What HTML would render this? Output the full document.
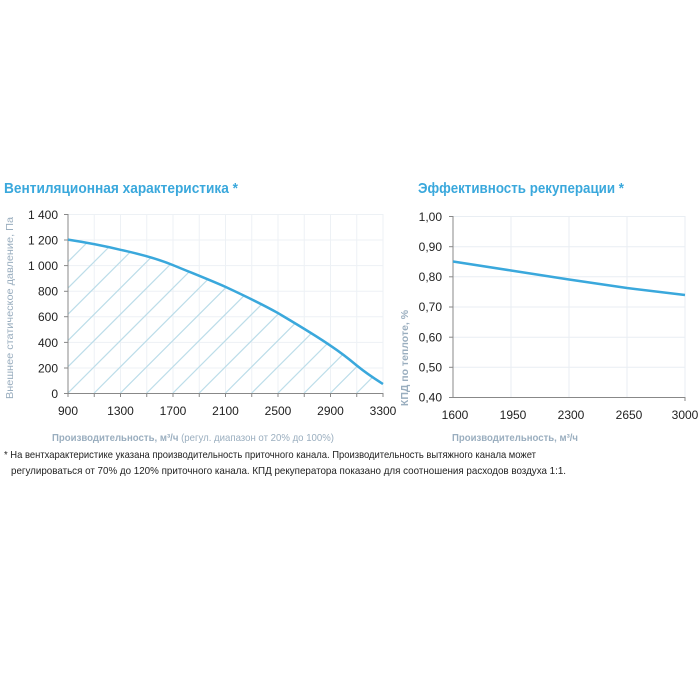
<!DOCTYPE html>
<html><head><meta charset="utf-8"><style>
html,body{margin:0;padding:0;background:#fff;}
svg{display:block;font-family:"Liberation Sans","DejaVu Sans",sans-serif;}
</style></head><body>
<svg width="700" height="700" viewBox="0 0 700 700" xmlns="http://www.w3.org/2000/svg">
<defs>
<clipPath id="under"><path d="M68,239.6 C90,243 105,246 120.5,249.8 C140,254 158,259 173,265.1 C192,273 210,280 225.5,286.9 C245,296 262,304 278,313.1 C298,325 315,335 330.5,345.7 C340,352 349,359 356.75,365.5 C366,373 375,379 383,384 L383,393 L68,393 Z"/></clipPath>
</defs>
<text x="4" y="193" font-size="15" font-weight="bold" fill="#3aa8dc" textLength="234" lengthAdjust="spacingAndGlyphs">Вентиляционная характеристика *</text>
<text x="418" y="193" font-size="15" font-weight="bold" fill="#3aa8dc" textLength="206" lengthAdjust="spacingAndGlyphs">Эффективность рекуперации *</text>

<g stroke="#edf1f5" stroke-width="1">
<line x1="68" y1="214.5" x2="383" y2="214.5"/><line x1="68" y1="240" x2="383" y2="240"/><line x1="68" y1="265.6" x2="383" y2="265.6"/><line x1="68" y1="291.3" x2="383" y2="291.3"/><line x1="68" y1="316.7" x2="383" y2="316.7"/><line x1="68" y1="342.4" x2="383" y2="342.4"/><line x1="68" y1="368" x2="383" y2="368"/>
<line x1="94.25" y1="214" x2="94.25" y2="393"/><line x1="120.5" y1="214" x2="120.5" y2="393"/><line x1="146.75" y1="214" x2="146.75" y2="393"/><line x1="173" y1="214" x2="173" y2="393"/><line x1="199.25" y1="214" x2="199.25" y2="393"/><line x1="225.5" y1="214" x2="225.5" y2="393"/><line x1="251.75" y1="214" x2="251.75" y2="393"/><line x1="278" y1="214" x2="278" y2="393"/><line x1="304.25" y1="214" x2="304.25" y2="393"/><line x1="330.5" y1="214" x2="330.5" y2="393"/><line x1="356.75" y1="214" x2="356.75" y2="393"/><line x1="383" y1="214" x2="383" y2="393"/>
</g>
<g clip-path="url(#under)" stroke="#bcdde9" stroke-width="1.2">
<line x1="68" y1="393" x2="248" y2="213"/>
<line x1="94.25" y1="393" x2="274.25" y2="213"/>
<line x1="120.5" y1="393" x2="300.5" y2="213"/>
<line x1="146.75" y1="393" x2="326.75" y2="213"/>
<line x1="173" y1="393" x2="353" y2="213"/>
<line x1="199.25" y1="393" x2="379.25" y2="213"/>
<line x1="225.5" y1="393" x2="405.5" y2="213"/>
<line x1="251.75" y1="393" x2="431.75" y2="213"/>
<line x1="278" y1="393" x2="458" y2="213"/>
<line x1="304.25" y1="393" x2="484.25" y2="213"/>
<line x1="330.5" y1="393" x2="510.5" y2="213"/>
<line x1="356.75" y1="393" x2="536.75" y2="213"/>
<line x1="41.75" y1="393" x2="221.75" y2="213"/>
<line x1="15.5" y1="393" x2="195.5" y2="213"/>
<line x1="-10.75" y1="393" x2="169.25" y2="213"/>
<line x1="-37" y1="393" x2="143" y2="213"/>
<line x1="-63.25" y1="393" x2="116.75" y2="213"/>
<line x1="-89.5" y1="393" x2="90.5" y2="213"/>
</g>
<g stroke="#888" stroke-width="1">
<line x1="68" y1="214" x2="68" y2="393.5"/>
<line x1="68" y1="393.5" x2="383" y2="393.5"/>
<line x1="64" y1="214.5" x2="68" y2="214.5"/><line x1="64" y1="240" x2="68" y2="240"/><line x1="64" y1="265.6" x2="68" y2="265.6"/><line x1="64" y1="291.3" x2="68" y2="291.3"/><line x1="64" y1="316.7" x2="68" y2="316.7"/><line x1="64" y1="342.4" x2="68" y2="342.4"/><line x1="64" y1="368" x2="68" y2="368"/><line x1="64" y1="393.5" x2="68" y2="393.5"/>
<line x1="68" y1="393" x2="68" y2="397"/><line x1="94.25" y1="393" x2="94.25" y2="397"/><line x1="120.5" y1="393" x2="120.5" y2="397"/><line x1="146.75" y1="393" x2="146.75" y2="397"/><line x1="173" y1="393" x2="173" y2="397"/><line x1="199.25" y1="393" x2="199.25" y2="397"/><line x1="225.5" y1="393" x2="225.5" y2="397"/><line x1="251.75" y1="393" x2="251.75" y2="397"/><line x1="278" y1="393" x2="278" y2="397"/><line x1="304.25" y1="393" x2="304.25" y2="397"/><line x1="330.5" y1="393" x2="330.5" y2="397"/><line x1="356.75" y1="393" x2="356.75" y2="397"/><line x1="383" y1="393" x2="383" y2="397"/>
</g>
<path d="M68,239.6 C90,243 105,246 120.5,249.8 C140,254 158,259 173,265.1 C192,273 210,280 225.5,286.9 C245,296 262,304 278,313.1 C298,325 315,335 330.5,345.7 C340,352 349,359 356.75,365.5 C366,373 375,379 383,384" fill="none" stroke="#3aa8dc" stroke-width="2.5"/>
<g font-size="12" fill="#222" text-anchor="end">
<text x="58" y="219">1 400</text><text x="58" y="244.5">1 200</text><text x="58" y="270">1 000</text><text x="58" y="295.5">800</text><text x="58" y="321">600</text><text x="58" y="347">400</text><text x="58" y="372.5">200</text><text x="58" y="398">0</text>
</g>
<g font-size="12" fill="#222" text-anchor="middle">
<text x="68" y="415">900</text><text x="120.5" y="415">1300</text><text x="173" y="415">1700</text><text x="225.5" y="415">2100</text><text x="278" y="415">2500</text><text x="330.5" y="415">2900</text><text x="383" y="415">3300</text>
</g>
<text x="52" y="441" font-size="10.5" fill="#9aaebf" textLength="282" lengthAdjust="spacingAndGlyphs"><tspan font-weight="bold">Производительность, м³/ч</tspan> (регул. диапазон от 20% до 100%)</text>
<text transform="translate(13,308) rotate(-90)" font-size="10.5" fill="#9aaebf" text-anchor="middle" textLength="182" lengthAdjust="spacingAndGlyphs">Внешнее статическое давление, Па</text>

<g stroke="#e9eef3" stroke-width="1">
<line x1="453" y1="216.5" x2="685" y2="216.5"/><line x1="453" y1="246.7" x2="685" y2="246.7"/><line x1="453" y1="276.8" x2="685" y2="276.8"/><line x1="453" y1="307" x2="685" y2="307"/><line x1="453" y1="337.2" x2="685" y2="337.2"/><line x1="453" y1="367.3" x2="685" y2="367.3"/>
<line x1="511" y1="216" x2="511" y2="397"/><line x1="569" y1="216" x2="569" y2="397"/><line x1="627" y1="216" x2="627" y2="397"/><line x1="685" y1="216" x2="685" y2="397"/>
</g>
<g stroke="#888" stroke-width="1">
<line x1="453" y1="216" x2="453" y2="397.5"/>
<line x1="453" y1="397.5" x2="685" y2="397.5"/>
<line x1="449" y1="216.5" x2="453" y2="216.5"/><line x1="449" y1="246.7" x2="453" y2="246.7"/><line x1="449" y1="276.8" x2="453" y2="276.8"/><line x1="449" y1="307" x2="453" y2="307"/><line x1="449" y1="337.2" x2="453" y2="337.2"/><line x1="449" y1="367.3" x2="453" y2="367.3"/><line x1="449" y1="397.5" x2="453" y2="397.5"/>
<line x1="685" y1="397" x2="685" y2="401"/>
</g>
<path d="M453,261.5 L511,270.5 L569,279.5 L627,288 L685,295" fill="none" stroke="#3aa8dc" stroke-width="2.5"/>
<g font-size="12" fill="#222" text-anchor="end">
<text x="442" y="221">1,00</text><text x="442" y="251">0,90</text><text x="442" y="281">0,80</text><text x="442" y="311">0,70</text><text x="442" y="341.5">0,60</text><text x="442" y="371.5">0,50</text><text x="442" y="401.5">0,40</text>
</g>
<g font-size="12" fill="#222" text-anchor="middle">
<text x="455" y="419">1600</text><text x="513" y="419">1950</text><text x="571" y="419">2300</text><text x="629" y="419">2650</text><text x="685" y="419">3000</text>
</g>
<text x="452" y="441" font-size="10.5" fill="#9aaebf" font-weight="bold" textLength="126" lengthAdjust="spacingAndGlyphs">Производительность, м³/ч</text>
<text transform="translate(408,358) rotate(-90)" font-size="10.5" fill="#9aaebf" text-anchor="middle" font-weight="bold">КПД по теплоте, %</text>

<text x="4" y="458" font-size="10.5" fill="#222" textLength="532" lengthAdjust="spacingAndGlyphs">* На вентхарактеристике указана производительность приточного канала. Производительность вытяжного канала может</text>
<text x="11" y="474" font-size="10.5" fill="#222" textLength="555" lengthAdjust="spacingAndGlyphs">регулироваться от 70% до 120% приточного канала. КПД рекуператора показано для соотношения расходов воздуха 1:1.</text>
</svg>
</body></html>
